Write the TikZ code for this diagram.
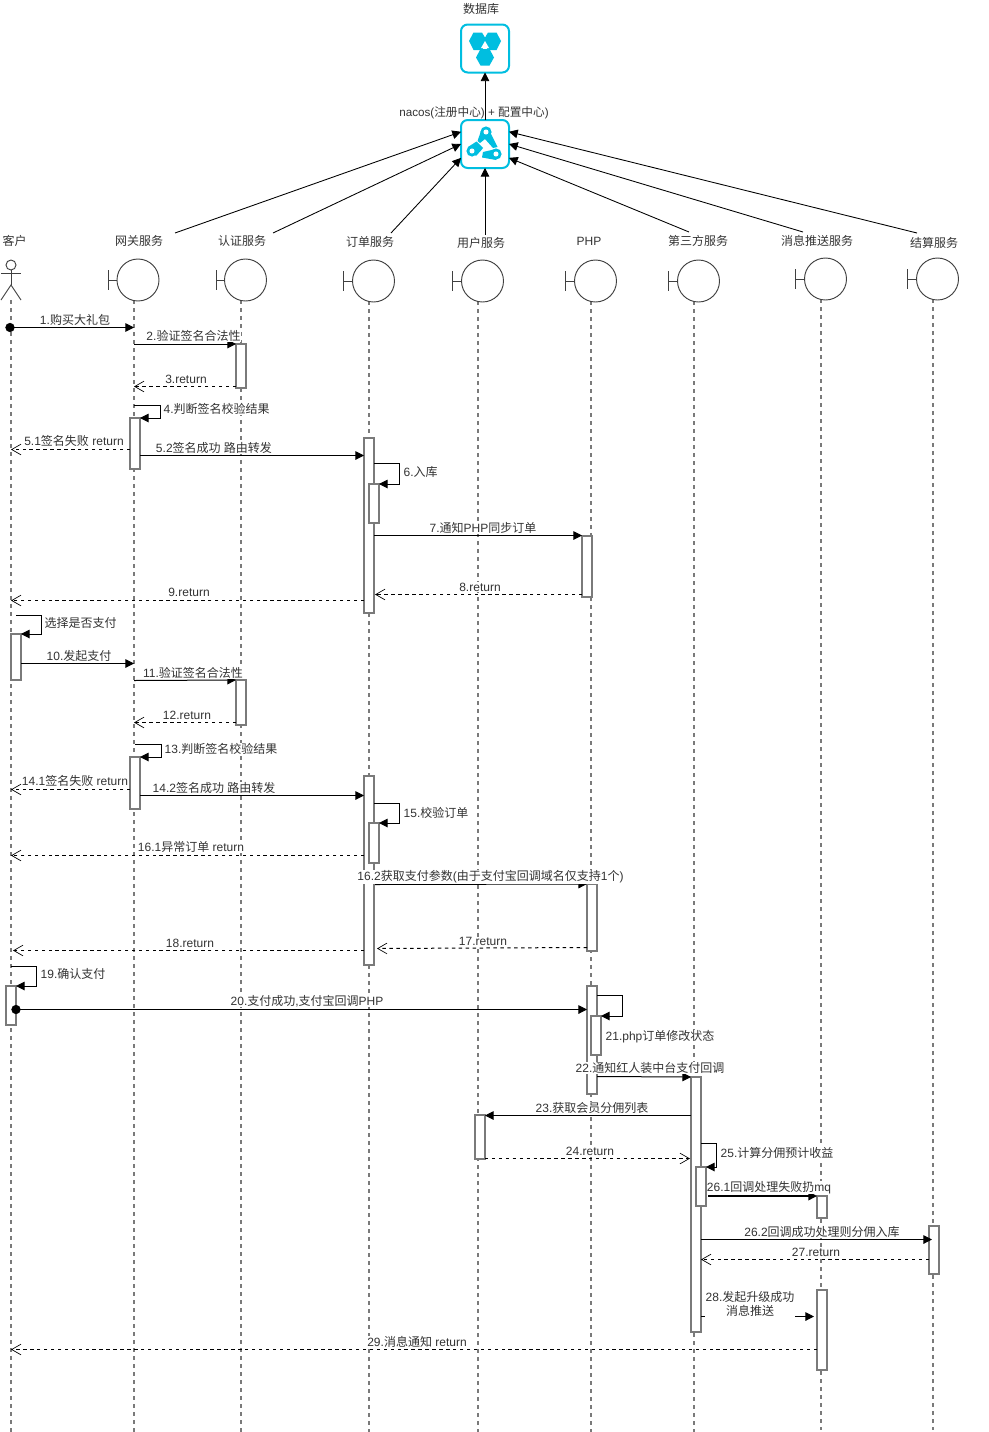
\documentclass[tikz,border=0pt]{standalone}
\usepackage{fontspec}
\setmainfont{Liberation Sans}
\newfontfamily\cjkf{Noto Sans CJK SC}
\newcommand{\zh}[1]{{\cjkf #1}}
\usetikzlibrary{arrows.meta}
\definecolor{iconc}{HTML}{00BEE0}
\definecolor{txt}{HTML}{333333}
\definecolor{grayl}{HTML}{7A7A7A}
\tikzset{
  lifeln/.style={draw=grayl,line width=1.05pt,dash pattern=on 3pt off 3pt},
  headc/.style={circle,draw=black!75,fill=white,line width=0.7pt,minimum size=31.5pt,inner sep=0pt,outer sep=0pt},
  headbar/.style={draw=black!75,line width=0.7pt},
  actbox/.style={draw=grayl,fill=white,line width=1.1pt,outer sep=0pt},
  msg/.style={draw=black,line width=0.75pt,-{Triangle[length=6.5pt,width=6.5pt]}},
  ret/.style={draw=black,line width=0.75pt,dash pattern=on 2.6pt off 2.6pt,-{Straight Barb[length=7pt,width=8pt,line width=0.5pt]}},
  lab/.style={text=txt,font=\fontsize{9pt}{10.5pt}\selectfont,fill=white,inner sep=0.3pt,align=center,yshift=-0.1pt},
  labnf/.style={text=txt,font=\fontsize{9pt}{10.5pt}\selectfont,inner sep=0.3pt,align=center,yshift=-0.1pt},
  iconbox/.style={draw=iconc,fill=white,line width=1.5pt,rounded corners=5pt,minimum size=36pt,inner sep=0pt,outer sep=0pt},
  toparr/.style={draw=black,line width=0.65pt,-{Triangle[length=6.5pt,width=6.5pt]}},
  dot/.style={circle,fill=black,draw=black,inner sep=0pt,minimum size=6.5pt},
}
\newcommand{\Act}[5]{\node[actbox,anchor=north west,minimum width=#3*0.75pt-#2*0.75pt,minimum height=#5*0.75pt-#4*0.75pt,inner sep=0pt] (#1) at (#2,#4) {};}
\newcommand{\Head}[4]{% name, bar x, circle centre x, y
  \draw[headbar] (#2,#4-10) -- (#2,#4+10);
  \draw[headbar] (#2,#4) -- (#3-21,#4);
  \node[headc] (#1) at (#3,#4) {};
}
\begin{document}
\begin{tikzpicture}[x=0.75pt,y=-0.75pt]
\useasboundingbox (0,0) rectangle (989,1432);

% lifelines
\coordinate (kEnd) at (11,1432);
\coordinate (kTop) at (11,300);
\coordinate (gwEnd) at (134,1432);
\coordinate (auEnd) at (241,1432);
\coordinate (odEnd) at (369,1432);
\coordinate (usEnd) at (478,1432);
\coordinate (phEnd) at (591,1432);
\coordinate (tpEnd) at (694,1432);
\coordinate (mqEnd) at (821,1430);
\coordinate (stEnd) at (933,1430);
\coordinate (gwTop) at (134,300);
\coordinate (auTop) at (241,300);
\coordinate (odTop) at (369,301);
\coordinate (usTop) at (478,301);
\coordinate (phTop) at (591,301);
\coordinate (tpTop) at (694,301);
\coordinate (mqTop) at (821,299);
\coordinate (stTop) at (933,299);
\foreach \n in {k,gw,au,od,us,ph,tp,mq,st}{\draw[lifeln] (\n Top) -- (\n End);}

% actor
\node[circle,draw=black!75,fill=white,line width=0.7pt,minimum size=7.5pt,inner sep=0pt,outer sep=0pt] (actor) at (11,265) {};
\coordinate (actHip) at (11,285);
\coordinate (actArmL) at (1,273);
\coordinate (actArmR) at (21,273);
\coordinate (actLegL) at (1,300);
\coordinate (actLegR) at (21,300);
\draw[headbar] (actor.south) -- (actHip);
\draw[headbar] (actArmL) -- (actArmR);
\draw[headbar] (actLegL) -- (actHip) -- (actLegR);

% heads
\Head{hgw}{108.5}{138}{280}
\Head{hau}{216}{245.5}{280}
\Head{hod}{343}{373.5}{281}
\Head{hus}{452}{482.5}{281}
\Head{hph}{565}{595.5}{281}
\Head{htp}{668}{698.5}{281}
\Head{hmq}{795}{825.5}{279}
\Head{hst}{907}{937.5}{279}

% service names
\node[labnf] (nk) at (14.5,241) {\zh{客户}};
\node[labnf] (ngw) at (139,241) {\zh{网关服务}};
\node[labnf] (nau) at (242,241) {\zh{认证服务}};
\node[labnf] (nod) at (370,242) {\zh{订单服务}};
\node[labnf] (nus) at (481,243) {\zh{用户服务}};
\node[labnf] (nph) at (589,241) {PHP};
\node[labnf] (ntp) at (698,241) {\zh{第三方服务}};
\node[labnf] (nmq) at (817,241) {\zh{消息推送服务}};
\node[labnf] (nst) at (934,243) {\zh{结算服务}};

% icons
\node[iconbox] (db) at (485,48.5) {};
\node[iconbox] (nacos) at (485,144) {};
\node[labnf] (ndb) at (481,9) {\zh{数据库}};
\node[labnf,font=\fontsize{8.75pt}{10.5pt}\selectfont] (nnc) at (474,113) {nacos(\zh{注册中心}) + \zh{配置中心})};
\fill[iconc] (469,41) -- (473.5,32.5) -- (482,32.5) -- (487,41) -- (482,50) -- (473.5,50) -- cycle;
\fill[iconc] (483,41) -- (488,32.5) -- (496.5,32.5) -- (501,41) -- (496.5,50) -- (488,50) -- cycle;
\fill[iconc] (476,57.5) -- (480.5,49) -- (489.5,49) -- (494,57.5) -- (489.5,65.5) -- (480.5,65.5) -- cycle;
\fill[white] (485,41) -- (489,48) -- (481,48) -- cycle;
% chain links
\fill[iconc] (486,132) circle (4.2pt);
\fill[iconc] (481,131) -- (491,134) -- (497.5,147) -- (493,148) -- (485,139) -- (480,143) -- (477.5,141) -- cycle;
\fill[iconc] (472,151) circle (4.2pt);
\fill[iconc] (468,147) -- (476.5,141.5) -- (483,148) -- (481,150.5) -- (476,156) -- cycle;
\fill[iconc] (496,154) circle (4.2pt);
\fill[iconc] (483,152) -- (496,149) -- (496,160) -- (482,157.5) -- cycle;
\foreach \p in {(486,132),(472,151),(496,154)}{\fill[white] \p circle (1.9pt);}

% connectors to registry
\coordinate (tgw) at (175,233);
\coordinate (tau) at (273,233);
\coordinate (tod) at (391,233);
\coordinate (tus) at (485,235);
\coordinate (ttp) at (689,232);
\coordinate (tmq) at (803,232);
\coordinate (tst) at (917,233);
\draw[toparr] (tgw) -- (nacos.153);
\draw[toparr] (tau) -- (nacos.west);
\draw[toparr] (tod) -- (nacos.-150);
\draw[toparr] (tus) -- (nacos.south);
\draw[toparr] (ttp) -- (nacos.-30);
\draw[toparr] (tmq) -- (nacos.east);
\draw[toparr] (tst) -- (nacos.27);
\draw[toparr] (nacos.north) -- (db.south);

% activations
\Act{a2}{236}{246}{344}{388}
\Act{a4}{130}{140}{418}{469}
\Act{a5}{364}{374}{438}{613}
\Act{a6}{369}{379}{484}{523}
\Act{a7}{582}{592}{536}{597}
\Act{a10}{11}{21}{634}{680}
\Act{a11}{236}{246}{680}{725}
\Act{a13}{130}{140}{757}{809}
\Act{a14}{364}{374}{776}{965}
\Act{a15}{369}{379}{823}{863}
\Act{a16}{587}{597}{884}{951}
\Act{a19}{6}{16}{986}{1025}
\Act{a20}{587}{597}{986}{1094}
\Act{a21}{591}{601}{1016}{1055}
\Act{a22}{691}{701}{1077}{1332}
\Act{a23}{475}{485}{1115}{1159}
\Act{a25}{696}{706}{1167}{1206}
\Act{a26}{817}{827}{1196}{1218}
\Act{a262}{929}{939}{1226}{1274}
\Act{a28}{817}{827}{1290}{1370}

% messages: free ends as named coordinates on lifelines
\coordinate (m1s) at (10,327.5); \coordinate (m1e) at (134,327.5);
\draw[msg] (m1s) -- (m1e);
\node[dot] (d1) at (m1s) {};
\node[lab] (l1) at (75,320) {1.\zh{购买大礼包}};

\coordinate (m2s) at (134,344);
\draw[msg] (m2s) -- (a2.north west);
\node[lab] (l2) at (193.5,336) {2.\zh{验证签名合法性}};

\coordinate (m3s) at (236,386.5); \coordinate (m3e) at (134,386.5);
\draw[ret] (m3s) -- (m3e);
\node[lab] (l3) at (186,379) {3.return};

\coordinate (m4a) at (134,405.5); \coordinate (m4b) at (160,405.5); \coordinate (m4c) at (160,418);
\draw[msg] (m4a) -- (m4b) -- (m4c) -- (a4.north east);
\node[lab,anchor=west] (l4) at (163,409) {4.\zh{判断签名校验结果}};

\coordinate (m51s) at (130,449.5); \coordinate (m51e) at (11,449.5);
\draw[ret] (m51s) -- (m51e);
\node[lab] (l51) at (74,441) {5.1\zh{签名失败} return};

\coordinate (m52s) at (140,455.5); \coordinate (m52e) at (364,455.5);
\draw[msg] (m52s) -- (m52e);
\node[lab] (l52) at (214,447.5) {5.2\zh{签名成功} \zh{路由转发}};

\coordinate (m6a) at (374,463.5); \coordinate (m6b) at (399,463.5); \coordinate (m6c) at (399,484);
\draw[msg] (m6a) -- (m6b) -- (m6c) -- (a6.north east);
\node[lab,anchor=west] (l6) at (403,472) {6.\zh{入库}};

\coordinate (m7s) at (374,535.5);
\draw[msg] (m7s) -- (a7.north west |- m7s);
\node[lab] (l7) at (483,527.5) {7.\zh{通知}PHP\zh{同步订单}};

\coordinate (m8s) at (582,594.5); \coordinate (m8e) at (375,594.5);
\draw[ret] (m8s) -- (m8e);
\node[lab] (l8) at (480,587) {8.return};

\coordinate (m9s) at (364,600.5); \coordinate (m9e) at (11,600.5);
\draw[ret] (m9s) -- (m9e);
\node[lab] (l9) at (189,592) {9.return};

\coordinate (m0a) at (16,615.5); \coordinate (m0b) at (41,615.5); \coordinate (m0c) at (41,634);
\draw[msg] (m0a) -- (m0b) -- (m0c) -- (a10.north east);
\node[lab,anchor=west] (l0) at (44,623) {\zh{选择是否支付}};

\coordinate (m10s) at (21,663.5); \coordinate (m10e) at (134,663.5);
\draw[msg] (m10s) -- (m10e);
\node[lab] (l10) at (79,656) {10.\zh{发起支付}};

\coordinate (m11s) at (134,680.5);
\draw[msg] (m11s) -- (a11.north west);
\node[lab] (l11) at (193,673) {11.\zh{验证签名合法性}};

\coordinate (m12s) at (236,722.5); \coordinate (m12e) at (134,722.5);
\draw[ret] (m12s) -- (m12e);
\node[lab] (l12) at (187,715) {12.return};

\coordinate (m13a) at (135,744.5); \coordinate (m13b) at (161,744.5); \coordinate (m13c) at (161,757);
\draw[msg] (m13a) -- (m13b) -- (m13c) -- (a13.north east);
\node[lab,anchor=west] (l13) at (164,749) {13.\zh{判断签名校验结果}};

\coordinate (m141s) at (130,789.5); \coordinate (m141e) at (11,789.5);
\draw[ret] (m141s) -- (m141e);
\node[lab] (l141) at (75,781) {14.1\zh{签名失败} return};

\coordinate (m142s) at (140,795.5); \coordinate (m142e) at (364,795.5);
\draw[msg] (m142s) -- (m142e);
\node[lab] (l142) at (214,788) {14.2\zh{签名成功} \zh{路由转发}};

\coordinate (m15a) at (374,803.5); \coordinate (m15b) at (399,803.5); \coordinate (m15c) at (399,823);
\draw[msg] (m15a) -- (m15b) -- (m15c) -- (a15.north east);
\node[lab,anchor=west] (l15) at (403,813) {15.\zh{校验订单}};

\coordinate (m161s) at (364,855.5); \coordinate (m161e) at (11,855.5);
\draw[ret] (m161s) -- (m161e);
\node[lab] (l161) at (191,847) {16.1\zh{异常订单} return};

\coordinate (m162s) at (375,884.5);
\draw[msg] (m162s) -- (a16.north west);
\node[lab] (l162) at (490.5,877) {16.2\zh{获取支付参数}(\zh{由于支付宝回调域名仅支持}1\zh{个})};

\coordinate (m17s) at (587,947.5); \coordinate (m17e) at (377,948.5);
\draw[ret] (m17s) -- (m17e);
\node[lab] (l17) at (483,941) {17.return};

\coordinate (m18s) at (364,950.5); \coordinate (m18e) at (13,950.5);
\draw[ret] (m18s) -- (m18e);
\node[lab] (l18) at (190,943) {18.return};

\coordinate (m19a) at (11,966.5); \coordinate (m19b) at (36,966.5); \coordinate (m19c) at (36,986);
\draw[msg] (m19a) -- (m19b) -- (m19c) -- (a19.north east);
\node[lab,anchor=west] (l19) at (40,974) {19.\zh{确认支付}};

\coordinate (m20s) at (16,1009.5); \coordinate (m20e) at (587,1009.5);
\draw[msg] (m20s) -- (m20e);
\node[dot] (d20) at (m20s) {};
\node[lab] (l20) at (307,1001) {20.\zh{支付成功},\zh{支付宝回调}PHP};

\coordinate (m21a) at (597,995.5); \coordinate (m21b) at (622,995.5); \coordinate (m21c) at (622,1016);
\draw[msg] (m21a) -- (m21b) -- (m21c) -- (a21.north east);
\node[lab,anchor=west] (l21) at (605,1037) {21.php\zh{订单修改状态}};

\coordinate (m22s) at (597,1076.5);
\draw[msg] (m22s) -- (a22.north west);
\node[lab] (l22) at (650,1068) {22.\zh{通知红人装中台支付回调}};

\coordinate (m23s) at (691,1115.5); \coordinate (m23e) at (485,1115.5);
\draw[msg] (m23s) -- (m23e);
\node[lab] (l23) at (592,1107.5) {23.\zh{获取会员分佣列表}};

\coordinate (m24s) at (485,1158.5); \coordinate (m24e) at (690,1158.5);
\draw[ret] (m24s) -- (m24e);
\node[lab] (l24) at (590,1151) {24.return};

\coordinate (m25a) at (701,1143.5); \coordinate (m25b) at (716,1143.5); \coordinate (m25c) at (716,1167);
\draw[msg] (m25a) -- (m25b) -- (m25c) -- (a25.north east);
\node[lab,anchor=west] (l25) at (720,1152.5) {25.\zh{计算分佣预计收益}};

\coordinate (m261s) at (708,1196);
\draw[msg,line width=1pt] (m261s) -- (a26.north west);
\node[lab] (l261) at (769,1187.5) {26.1\zh{回调处理失败扔}mq};

\coordinate (m262s) at (701,1239.5); \coordinate (m262e) at (932,1239.5);
\draw[msg] (m262s) -- (m262e);
\node[lab] (l262) at (822,1232) {26.2\zh{回调成功处理则分佣入库}};

\coordinate (m27s) at (929,1259.5); \coordinate (m27e) at (701,1259.5);
\draw[ret] (m27s) -- (m27e);
\node[lab] (l27) at (816,1252) {27.return};

\coordinate (m28s) at (701,1316.5); \coordinate (m28e) at (814,1316.5);
\draw[msg] (m28s) -- (m28e);
\node[lab,minimum width=66pt,minimum height=20pt] (l28) at (750,1304) {28.\zh{发起升级成功}\\\zh{消息推送}};

\coordinate (m29s) at (817,1349.5); \coordinate (m29e) at (11,1349.5);
\draw[ret] (m29s) -- (m29e);
\node[lab] (l29) at (417,1342) {29.\zh{消息通知} return};
\end{tikzpicture}
\end{document}
